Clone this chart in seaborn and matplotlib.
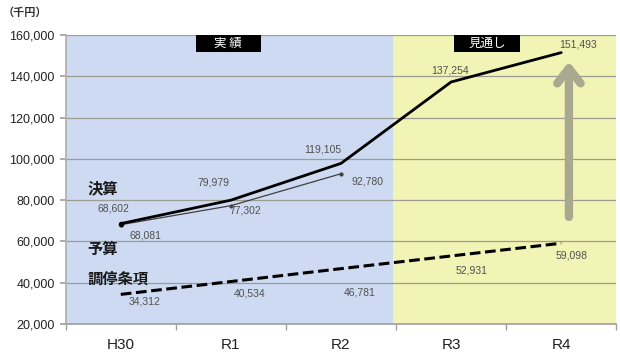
import numpy as np
import pandas as pd
import matplotlib
matplotlib.use('Agg')
import matplotlib.pyplot as plt
from matplotlib.patches import Rectangle
import seaborn as sns

# data
years = ['H30', 'R1', 'R2', 'R3', 'R4']
kessan = [68602, 79979, 97800, 137254, 151493]      # plotted line (R2 label reads 119,105)
kessan_labels = ['68,602', '79,979', '119,105', '137,254', '151,493']
yosan = [68081, 77302, 92780]
yosan_labels = ['68,081', '77,302', '92,780']
chotei = [34312, 40534, 46781, 52931, 59098]
chotei_labels = ['34,312', '40,534', '46,781', '52,931', '59,098']
yticks = [20000, 40000, 60000, 80000, 100000, 120000, 140000, 160000]

sns.set_theme(style='white')
plt.rcParams['font.family'] = ['Liberation Sans', 'Noto Sans CJK JP', 'DejaVu Sans']
jp = ['Noto Sans CJK JP', 'DejaVu Sans']

pos = np.arange(len(years))
df_k = pd.DataFrame({'x': pos, 'y': kessan})
df_y = pd.DataFrame({'x': pos[:len(yosan)], 'y': yosan})
df_c = pd.DataFrame({'x': pos, 'y': chotei})

fig = plt.figure(figsize=(6.2, 3.54), dpi=100)
ax = fig.add_axes([0.106, 0.085, 0.888, 0.816])

ax.axvspan(-0.5, 2.47, color='#cddaf1', zorder=0, lw=0)
ax.axvspan(2.47, 4.5, color='#f1f4b4', zorder=0, lw=0)
for t in yticks[1:]:
    ax.axhline(t, color='#9c9c94', lw=0.9, zorder=1)

sns.lineplot(data=df_c, x='x', y='y', ax=ax, color='black', lw=2.2,
             linestyle=(0, (3.5, 1.5)), zorder=3)
sns.lineplot(data=df_y, x='x', y='y', ax=ax, color='#404040', lw=0.9,
             marker='o', markersize=3, markeredgewidth=0, zorder=3)
sns.lineplot(data=df_k, x='x', y='y', ax=ax, color='black', lw=2.0, zorder=4)
ax.plot(pos[0], kessan[0], 'o', color='black', ms=3, zorder=5)

# data labels
lab = dict(fontsize=7.5, color='#505050', ha='center', va='center', zorder=6)
k_off = [(-0.07, 7300), (-0.16, 8700), (-0.17, 6500), (-0.01, 5800), (0.15, 4000)]
for i, (dx, dy) in enumerate(k_off):
    ax.text(pos[i] + dx, kessan[i] + dy, kessan_labels[i], **lab)
y_off = [(0.22, -5400), (0.13, -2500), (0.24, -3700)]
for i, (dx, dy) in enumerate(y_off):
    ax.text(pos[i] + dx, yosan[i] + dy, yosan_labels[i], **lab)
c_off = [(0.22, -3600), (0.17, -5800), (0.17, -11400), (0.19, -7000), (0.09, -5800)]
for i, (dx, dy) in enumerate(c_off):
    ax.text(pos[i] + dx, chotei[i] + dy, chotei_labels[i], **lab)

# series names
nm = dict(fontsize=11, fontweight='bold', color='#1a1a1a', ha='left', va='center',
          family=jp, zorder=6)
ax.text(-0.3, 85500, '決算', **nm)
ax.text(-0.3, 56500, '予算', **nm)
ax.text(-0.3, 42000, '調停条項', **nm)

# section headers
ax.add_patch(Rectangle((0.68, 151800), 0.59, 8200, fc='black', ec='none', zorder=6))
ax.add_patch(Rectangle((3.03, 151800), 0.60, 8200, fc='black', ec='none', zorder=6))
hdr = dict(fontsize=9, color='white', ha='center', va='center', family=jp, zorder=7)
ax.text(0.975, 155900, '実 績', **hdr)
ax.text(3.33, 155900, '見通し', **hdr)

# outlook arrow
ax.annotate('', xy=(4.07, 148500), xytext=(4.07, 70500),
            arrowprops=dict(arrowstyle='->,head_length=0.9,head_width=0.7',
                            color='#a9a98f', lw=6), zorder=5)

ax.set_xlim(-0.5, 4.5)
ax.set_ylim(20000, 160000)
ax.set_yticks(yticks)
ax.set_yticklabels([f'{v:,}' for v in yticks], fontsize=9, color='#222222')
ax.set_xticks(pos)
ax.set_xticklabels(years, fontsize=11, color='#222222')
ax.set_xticks(np.arange(-0.5, 4.6, 1), minor=True)
ax.tick_params(axis='x', which='major', length=0, pad=10)
ax.tick_params(axis='x', which='minor', length=4, color='#a0a0a0', bottom=True)
ax.tick_params(axis='y', length=4, color='#a0a0a0', left=True, pad=4)
ax.set_xlabel('')
ax.set_ylabel('')
for s in ['top', 'right']:
    ax.spines[s].set_visible(False)
ax.spines['left'].set_color('#b0b0b0')
ax.spines['bottom'].set_color('#a0a0a0')

fig.text(0.005, 0.965, '（千円）', fontsize=8, fontweight='bold', family=jp, color='#333333',
         va='center')

fig.savefig('out.png', dpi=100, facecolor='white')
